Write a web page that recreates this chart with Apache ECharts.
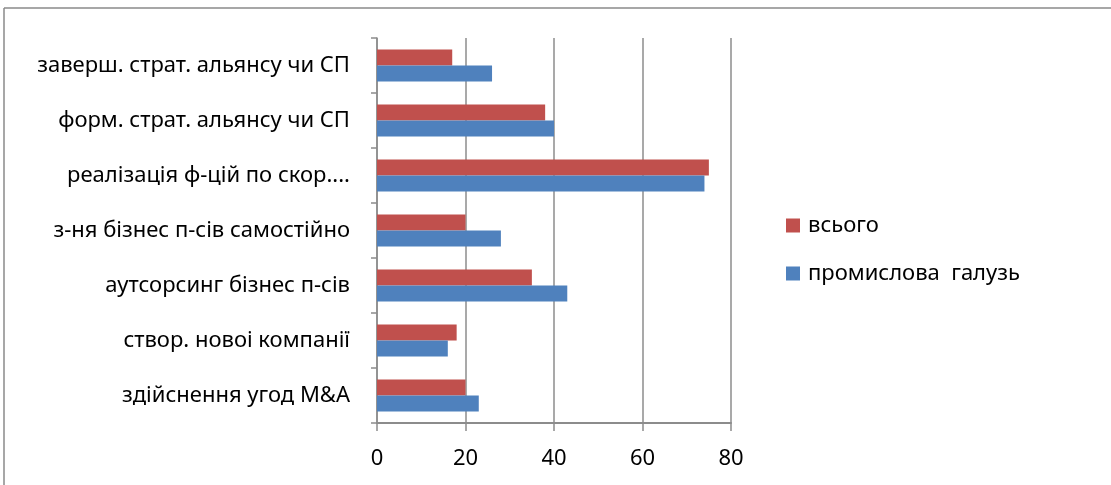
<!DOCTYPE html>
<html>
<head>
<meta charset="utf-8">
<script src="https://cdn.jsdelivr.net/npm/echarts@6/dist/echarts.min.js"></script>
<style>
  html, body { margin: 0; padding: 0; background: #fff; }
  #chart { width: 1111px; height: 485px; }
</style>
</head>
<body>
<div id="chart"></div>
<script>
// Categories listed bottom to top (category axis starts at the bottom)
const categories = [
  'здійснення угод M&A',
  'створ. новоі компанії',
  'аутсорсинг бізнес п-сів',
  'з-ня бізнес п-сів самостійно',
  'реалізація ф-цій по скор....',
  'форм. страт. альянсу чи СП',
  'заверш. страт. альянсу чи СП'
];
const industryName = 'промислова  галузь';
const totalName = 'всього';
const industryValues = [23, 16, 43, 28, 74, 40, 26];
const totalValues = [20, 18, 35, 20, 75, 38, 17];
const xTicks = [0, 20, 40, 60, 80];

const FONT = '"Noto Sans", sans-serif';
const GRID_GRAY = '#8c8c8c';

const chart = echarts.init(document.getElementById('chart'), null, { renderer: 'canvas' });
chart.setOption({
  animation: false,
  backgroundColor: '#ffffff',
  textStyle: { fontFamily: FONT },
  graphic: [
    { type: 'line', shape: { x1: 4, y1: 8, x2: 1111, y2: 8 }, style: { stroke: '#8a8a8a', lineWidth: 1.5 } },
    { type: 'line', shape: { x1: 4, y1: 8, x2: 4, y2: 485 }, style: { stroke: '#8a8a8a', lineWidth: 1.5 } }
  ],
  legend: {
    left: 781,
    top: 209,
    orient: 'vertical',
    itemGap: 25,
    itemWidth: 14,
    itemHeight: 14,
    icon: 'rect',
    data: [totalName, industryName],
    textStyle: { fontFamily: FONT, fontSize: 22, lineHeight: 23, color: '#000', padding: [0, 0, 0, 3] }
  },
  grid: { left: 377, right: 380, top: 38, bottom: 62, containLabel: false },
  xAxis: {
    type: 'value',
    min: xTicks[0],
    max: xTicks[xTicks.length - 1],
    interval: 20,
    axisLine: { show: true, lineStyle: { color: GRID_GRAY, width: 2 } },
    axisTick: { show: true, length: 8, lineStyle: { color: GRID_GRAY, width: 1.5 } },
    axisLabel: { fontFamily: FONT, fontSize: 22, color: '#000', margin: 25 },
    splitLine: { show: true, lineStyle: { color: GRID_GRAY, width: 1.5 } }
  },
  yAxis: {
    type: 'category',
    data: categories,
    axisLine: { show: true, lineStyle: { color: GRID_GRAY, width: 1.5 } },
    axisTick: { show: true, length: 6, lineStyle: { color: GRID_GRAY, width: 1.5 } },
    axisLabel: { fontFamily: FONT, fontSize: 22, color: '#000', margin: 27, padding: [4, 0, 0, 0] }
  },
  series: [
    {
      name: totalName,
      type: 'bar',
      data: totalValues,
      barWidth: 16,
      barGap: '0%',
      itemStyle: { color: '#c0504d' }
    },
    {
      name: industryName,
      type: 'bar',
      data: industryValues,
      barWidth: 16,
      barGap: '0%',
      itemStyle: { color: '#4f81bd' }
    }
  ]
});
</script>
</body>
</html>
